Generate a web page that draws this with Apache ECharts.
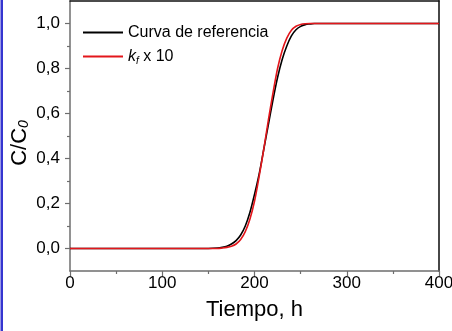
<!DOCTYPE html>
<html>
<head>
<meta charset="utf-8">
<script src="https://cdn.jsdelivr.net/npm/echarts@6/dist/echarts.min.js"></script>
<style>
html,body{margin:0;padding:0;background:#fff;}
#chart{width:452px;height:331px;}
</style>
</head>
<body>
<div id="chart"></div>
<script>
// Breakthrough curves: normalised concentration vs time
const timeH = [0, 150, 160, 165, 170, 175, 180, 185, 190, 195, 200, 205, 210, 215, 220, 225, 230, 235, 240, 245, 250, 255, 260, 265, 270, 400];
const refCurve = [0, 0, 0.002, 0.005, 0.01, 0.02, 0.035, 0.06, 0.10, 0.16, 0.24, 0.33, 0.44, 0.55, 0.66, 0.76, 0.84, 0.90, 0.945, 0.972, 0.987, 0.995, 0.998, 1.0, 1.0, 1.0];
const kfCurve = [0, 0, 0, 0.002, 0.005, 0.01, 0.02, 0.04, 0.075, 0.13, 0.21, 0.32, 0.44, 0.57, 0.69, 0.80, 0.88, 0.935, 0.97, 0.988, 0.996, 0.999, 1.0, 1.0, 1.0, 1.0];
const yMajor = [0, 0.2, 0.4, 0.6, 0.8, 1.0];
const yMinor = [0.1, 0.3, 0.5, 0.7, 0.9];
const seriesNames = ['Curva de referencia', 'kf x 10'];

const pairs = (xs, ys) => xs.map((x, i) => [x, ys[i]]);
const FONT = 'Liberation Sans, Arial, sans-serif';
const AXIS_GREY = '#6e6e6e';

const chart = echarts.init(document.getElementById('chart'), null, {renderer: 'canvas'});
chart.setOption({
  animation: false,
  backgroundColor: '#fff',
  grid: {left: 70, right: 13, top: 1, bottom: 60, containLabel: false, outerBoundsMode: 'none'},
  graphic: [{
    type: 'rect',
    shape: {x: 0.5, y: 0, width: 2.5, height: 331},
    style: {fill: '#3535d0'}
  }],
  legend: {
    orient: 'vertical',
    left: 78,
    top: 18,
    itemWidth: 40,
    itemHeight: 2,
    itemGap: 5,
    icon: 'rect',
    data: seriesNames,
    textStyle: {
      fontFamily: FONT, fontSize: 16, color: '#000', lineHeight: 19,
      rich: {
        i: {fontFamily: FONT, fontSize: 16, fontStyle: 'italic', color: '#000', lineHeight: 19},
        sub: {fontFamily: FONT, fontSize: 10, fontStyle: 'italic', color: '#000', verticalAlign: 'bottom', lineHeight: 19, padding: [7, 0, 0, 0]},
        n: {fontFamily: FONT, fontSize: 16, color: '#000', lineHeight: 19}
      }
    },
    formatter: function (name) {
      if (name === 'kf x 10') return '{i|k}{sub|f}{n| x 10}';
      return name;
    }
  },
  xAxis: [{
    type: 'value',
    min: 0, max: 400, interval: 100,
    position: 'bottom',
    name: 'Tiempo, h',
    nameLocation: 'middle',
    nameGap: 28,
    nameMoveOverlap: false,
    nameTextStyle: {fontFamily: FONT, fontSize: 22, color: '#000', verticalAlign: 'top'},
    axisLine: {show: true, onZero: false, lineStyle: {color: AXIS_GREY, width: 1.5}},
    axisTick: {show: true, inside: false, length: 5, lineStyle: {color: AXIS_GREY, width: 1.2}},
    minorTick: {show: true, splitNumber: 2, length: 3, lineStyle: {color: AXIS_GREY, width: 1.2}},
    axisLabel: {fontFamily: FONT, fontSize: 17, color: '#000', margin: 4},
    splitLine: {show: false}
  }, {
    type: 'value',
    min: 0, max: 400,
    position: 'top',
    axisLine: {show: true, onZero: false, lineStyle: {color: '#111', width: 1.5}},
    axisTick: {show: false},
    axisLabel: {show: false},
    splitLine: {show: false}
  }],
  yAxis: [{
    type: 'value',
    min: -0.1, max: 1.1,
    position: 'left',
    name: '{c|C/C}{sub|0}',
    nameLocation: 'middle',
    nameGap: 39,
    nameRotate: 90,
    nameMoveOverlap: false,
    nameTextStyle: {
      padding: [0, 14, 0, 0],
      rich: {
        c: {fontFamily: FONT, fontSize: 22, color: '#000'},
        sub: {fontFamily: FONT, fontSize: 14, fontStyle: 'italic', color: '#000', verticalAlign: 'bottom', padding: [9, 0, 0, 0]}
      }
    },
    axisLine: {show: true, onZero: false, lineStyle: {color: AXIS_GREY, width: 1.5}},
    axisTick: {show: true, inside: false, length: 5, customValues: yMajor, lineStyle: {color: AXIS_GREY, width: 1.2}},
    axisLabel: {
      customValues: yMajor,
      fontFamily: FONT, fontSize: 17, color: '#000', margin: 10,
      formatter: v => v.toFixed(1).replace('.', ',')
    },
    splitLine: {show: false}
  }, {
    type: 'value',
    min: -0.1, max: 1.1,
    position: 'left',
    axisLine: {show: false},
    axisTick: {show: true, inside: false, length: 3, customValues: yMinor, lineStyle: {color: AXIS_GREY, width: 1.2}},
    axisLabel: {show: false},
    splitLine: {show: false}
  }, {
    type: 'value',
    min: -0.1, max: 1.1,
    position: 'right',
    axisLine: {show: true, onZero: false, lineStyle: {color: '#333', width: 1.8}},
    axisTick: {show: false},
    axisLabel: {show: false},
    splitLine: {show: false}
  }],
  series: [{
    name: seriesNames[0],
    type: 'line',
    data: pairs(timeH, refCurve),
    smooth: 0.3,
    symbol: 'none',
    lineStyle: {color: '#000', width: 1.6},
    itemStyle: {color: '#000'},
    z: 3
  }, {
    name: seriesNames[1],
    type: 'line',
    data: pairs(timeH, kfCurve),
    smooth: 0.3,
    symbol: 'none',
    lineStyle: {color: '#e3161b', width: 1.6},
    itemStyle: {color: '#e3161b'},
    z: 4
  }]
});
</script>
</body>
</html>
